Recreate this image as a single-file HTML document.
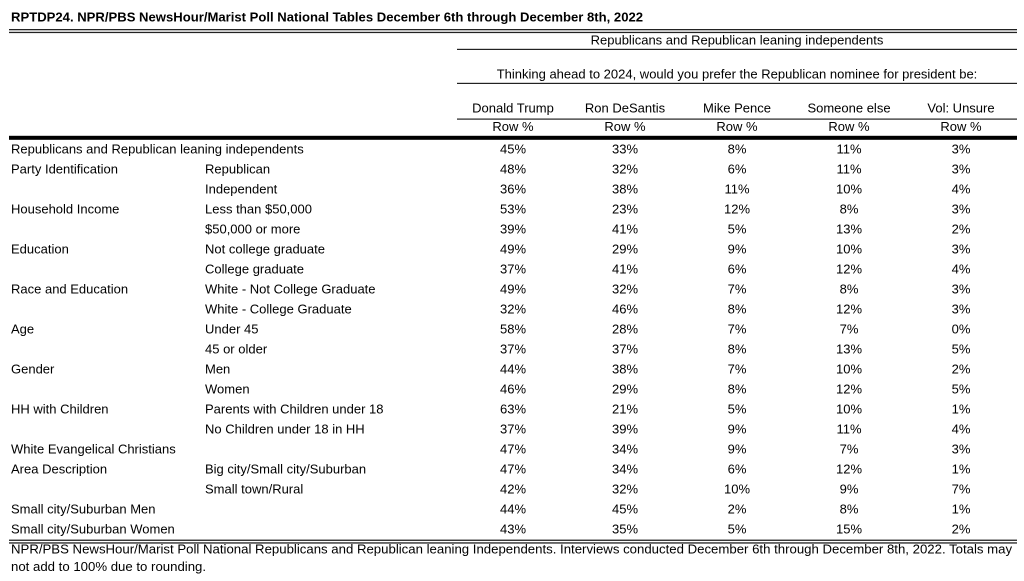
<!DOCTYPE html>
<html><head><meta charset="utf-8"><style>
html,body{margin:0;padding:0;background:#fff;}
svg{display:block;}
text{font-family:"Liberation Sans",Arial,sans-serif;font-size:13px;fill:#000;}
.b{font-weight:bold;font-size:13.1px;}
.c{text-anchor:middle;}
.f{font-size:13.2px;}
</style></head><body>
<svg width="1024" height="581" viewBox="0 0 1024 581" xmlns="http://www.w3.org/2000/svg">
<text class="b" x="11" y="21.5">RPTDP24. NPR/PBS NewsHour/Marist Poll National Tables December 6th through December 8th, 2022</text>
<rect x="9" y="29" width="1008" height="1.3" fill="#222"/>
<rect x="9" y="31.8" width="1008" height="1.3" fill="#222"/>
<text class="c" x="737" y="44.5">Republicans and Republican leaning independents</text>
<rect x="457" y="48.8" width="560" height="1.2" fill="#222"/>
<text class="c" x="737" y="78.3">Thinking ahead to 2024, would you prefer the Republican nominee for president be:</text>
<rect x="457" y="82.8" width="560" height="1.2" fill="#222"/>
<text class="c" x="513" y="112.3">Donald Trump</text>
<text class="c" x="625" y="112.3">Ron DeSantis</text>
<text class="c" x="737" y="112.3">Mike Pence</text>
<text class="c" x="849" y="112.3">Someone else</text>
<text class="c" x="961" y="112.3">Vol: Unsure</text>
<rect x="457" y="118.5" width="560" height="1.2" fill="#222"/>
<text class="c" x="513" y="130.8">Row %</text>
<text class="c" x="625" y="130.8">Row %</text>
<text class="c" x="737" y="130.8">Row %</text>
<text class="c" x="849" y="130.8">Row %</text>
<text class="c" x="961" y="130.8">Row %</text>
<rect x="9" y="135.8" width="1008" height="4" fill="#000"/>

<text x="11" y="153.5">Republicans and Republican leaning independents</text>
<text class="c" x="513" y="153.5">45%</text><text class="c" x="625" y="153.5">33%</text><text class="c" x="737" y="153.5">8%</text><text class="c" x="849" y="153.5">11%</text><text class="c" x="961" y="153.5">3%</text>

<text x="11" y="173.5">Party Identification</text><text x="205" y="173.5">Republican</text>
<text class="c" x="513" y="173.5">48%</text><text class="c" x="625" y="173.5">32%</text><text class="c" x="737" y="173.5">6%</text><text class="c" x="849" y="173.5">11%</text><text class="c" x="961" y="173.5">3%</text>

<text x="205" y="193.5">Independent</text>
<text class="c" x="513" y="193.5">36%</text><text class="c" x="625" y="193.5">38%</text><text class="c" x="737" y="193.5">11%</text><text class="c" x="849" y="193.5">10%</text><text class="c" x="961" y="193.5">4%</text>

<text x="11" y="213.5">Household Income</text><text x="205" y="213.5">Less than $50,000</text>
<text class="c" x="513" y="213.5">53%</text><text class="c" x="625" y="213.5">23%</text><text class="c" x="737" y="213.5">12%</text><text class="c" x="849" y="213.5">8%</text><text class="c" x="961" y="213.5">3%</text>

<text x="205" y="233.5">$50,000 or more</text>
<text class="c" x="513" y="233.5">39%</text><text class="c" x="625" y="233.5">41%</text><text class="c" x="737" y="233.5">5%</text><text class="c" x="849" y="233.5">13%</text><text class="c" x="961" y="233.5">2%</text>

<text x="11" y="253.5">Education</text><text x="205" y="253.5">Not college graduate</text>
<text class="c" x="513" y="253.5">49%</text><text class="c" x="625" y="253.5">29%</text><text class="c" x="737" y="253.5">9%</text><text class="c" x="849" y="253.5">10%</text><text class="c" x="961" y="253.5">3%</text>

<text x="205" y="273.5">College graduate</text>
<text class="c" x="513" y="273.5">37%</text><text class="c" x="625" y="273.5">41%</text><text class="c" x="737" y="273.5">6%</text><text class="c" x="849" y="273.5">12%</text><text class="c" x="961" y="273.5">4%</text>

<text x="11" y="293.5">Race and Education</text><text x="205" y="293.5">White - Not College Graduate</text>
<text class="c" x="513" y="293.5">49%</text><text class="c" x="625" y="293.5">32%</text><text class="c" x="737" y="293.5">7%</text><text class="c" x="849" y="293.5">8%</text><text class="c" x="961" y="293.5">3%</text>

<text x="205" y="313.5">White - College Graduate</text>
<text class="c" x="513" y="313.5">32%</text><text class="c" x="625" y="313.5">46%</text><text class="c" x="737" y="313.5">8%</text><text class="c" x="849" y="313.5">12%</text><text class="c" x="961" y="313.5">3%</text>

<text x="11" y="333.5">Age</text><text x="205" y="333.5">Under 45</text>
<text class="c" x="513" y="333.5">58%</text><text class="c" x="625" y="333.5">28%</text><text class="c" x="737" y="333.5">7%</text><text class="c" x="849" y="333.5">7%</text><text class="c" x="961" y="333.5">0%</text>

<text x="205" y="353.5">45 or older</text>
<text class="c" x="513" y="353.5">37%</text><text class="c" x="625" y="353.5">37%</text><text class="c" x="737" y="353.5">8%</text><text class="c" x="849" y="353.5">13%</text><text class="c" x="961" y="353.5">5%</text>

<text x="11" y="373.5">Gender</text><text x="205" y="373.5">Men</text>
<text class="c" x="513" y="373.5">44%</text><text class="c" x="625" y="373.5">38%</text><text class="c" x="737" y="373.5">7%</text><text class="c" x="849" y="373.5">10%</text><text class="c" x="961" y="373.5">2%</text>

<text x="205" y="393.5">Women</text>
<text class="c" x="513" y="393.5">46%</text><text class="c" x="625" y="393.5">29%</text><text class="c" x="737" y="393.5">8%</text><text class="c" x="849" y="393.5">12%</text><text class="c" x="961" y="393.5">5%</text>

<text x="11" y="413.5">HH with Children</text><text x="205" y="413.5">Parents with Children under 18</text>
<text class="c" x="513" y="413.5">63%</text><text class="c" x="625" y="413.5">21%</text><text class="c" x="737" y="413.5">5%</text><text class="c" x="849" y="413.5">10%</text><text class="c" x="961" y="413.5">1%</text>

<text x="205" y="433.5">No Children under 18 in HH</text>
<text class="c" x="513" y="433.5">37%</text><text class="c" x="625" y="433.5">39%</text><text class="c" x="737" y="433.5">9%</text><text class="c" x="849" y="433.5">11%</text><text class="c" x="961" y="433.5">4%</text>

<text x="11" y="453.5">White Evangelical Christians</text>
<text class="c" x="513" y="453.5">47%</text><text class="c" x="625" y="453.5">34%</text><text class="c" x="737" y="453.5">9%</text><text class="c" x="849" y="453.5">7%</text><text class="c" x="961" y="453.5">3%</text>

<text x="11" y="473.5">Area Description</text><text x="205" y="473.5">Big city/Small city/Suburban</text>
<text class="c" x="513" y="473.5">47%</text><text class="c" x="625" y="473.5">34%</text><text class="c" x="737" y="473.5">6%</text><text class="c" x="849" y="473.5">12%</text><text class="c" x="961" y="473.5">1%</text>

<text x="205" y="493.5">Small town/Rural</text>
<text class="c" x="513" y="493.5">42%</text><text class="c" x="625" y="493.5">32%</text><text class="c" x="737" y="493.5">10%</text><text class="c" x="849" y="493.5">9%</text><text class="c" x="961" y="493.5">7%</text>

<text x="11" y="513.5">Small city/Suburban Men</text>
<text class="c" x="513" y="513.5">44%</text><text class="c" x="625" y="513.5">45%</text><text class="c" x="737" y="513.5">2%</text><text class="c" x="849" y="513.5">8%</text><text class="c" x="961" y="513.5">1%</text>

<text x="11" y="533.5">Small city/Suburban Women</text>
<text class="c" x="513" y="533.5">43%</text><text class="c" x="625" y="533.5">35%</text><text class="c" x="737" y="533.5">5%</text><text class="c" x="849" y="533.5">15%</text><text class="c" x="961" y="533.5">2%</text>

<rect x="9" y="539.6" width="1008" height="1.3" fill="#222"/>
<rect x="9" y="542.3" width="1008" height="1.3" fill="#222"/>
<text class="f" x="11" y="553.5">NPR/PBS NewsHour/Marist Poll National Republicans and Republican leaning Independents. Interviews conducted December 6th through December 8th, 2022. Totals may</text>
<text class="f" x="11" y="571">not add to 100% due to rounding.</text>
</svg>
</body></html>
